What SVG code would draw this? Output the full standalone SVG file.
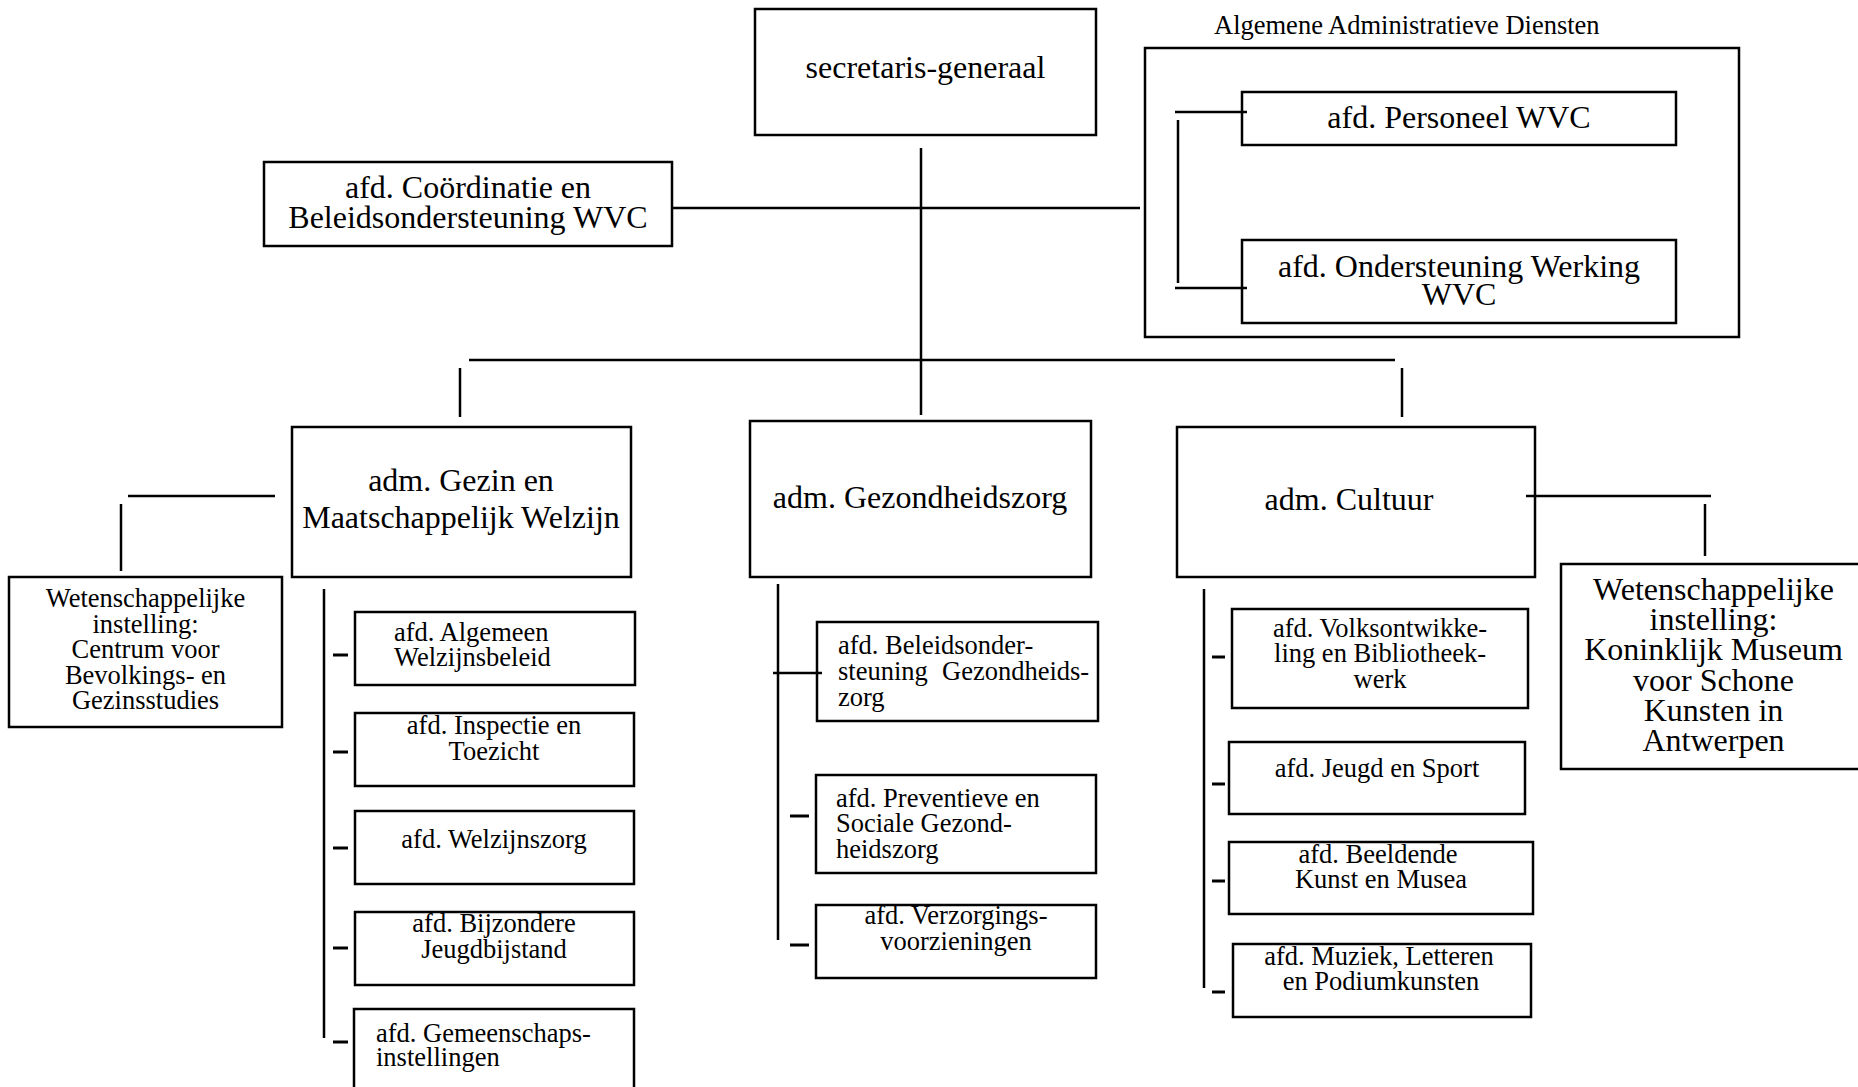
<svg xmlns="http://www.w3.org/2000/svg" width="1858" height="1087" viewBox="0 0 1858 1087">
<style>
.box{fill:#fff;stroke:#000;stroke-width:2.5}
.ln{stroke:#000;stroke-width:2.5;fill:none}
.tk{stroke:#000;stroke-width:3;fill:none}
text{font-family:"Liberation Serif","Times New Roman",serif;fill:#000}
.big{font-size:32px}
.sm{font-size:26.5px}
.m{text-anchor:middle}
</style>
<rect width="1858" height="1087" fill="#fff"/>
<g id="n-sg"><rect class="box" x="755" y="9" width="341" height="126"/><text class="big m" x="925.5" y="78">secretaris-generaal</text></g>
<g id="n-coord"><rect class="box" x="264" y="162" width="408" height="84"/><text class="big m" x="468" y="198">afd. Coördinatie en</text><text class="big m" x="468" y="228">Beleidsondersteuning WVC</text></g>
<g id="n-aad"><rect class="box" x="1145" y="48" width="594" height="289"/><text class="sm" x="1214" y="34">Algemene Administratieve Diensten</text></g>
<g id="n-pers"><rect class="box" x="1242" y="92" width="434" height="53"/><text class="big m" x="1459" y="128">afd. Personeel WVC</text></g>
<g id="n-onder"><rect class="box" x="1242" y="240" width="434" height="83"/><text class="big m" x="1459" y="277">afd. Ondersteuning Werking</text><text class="big m" x="1459" y="305">WVC</text></g>
<g id="n-gezin"><rect class="box" x="292" y="427" width="339" height="150"/><text class="big m" x="461" y="491">adm. Gezin en</text><text class="big m" x="461" y="528">Maatschappelijk Welzijn</text></g>
<g id="n-wet1"><rect class="box" x="9" y="577" width="273" height="150"/>
<text class="sm m" x="145.5" y="607">Wetenschappelijke</text><text class="sm m" x="145.5" y="632.6">instelling:</text><text class="sm m" x="145.5" y="658.2">Centrum voor</text><text class="sm m" x="145.5" y="683.8">Bevolkings- en</text><text class="sm m" x="145.5" y="709.4">Gezinsstudies</text></g>
<g id="n-g1"><rect class="box" x="355" y="612" width="280" height="73"/><text class="sm" x="394" y="641">afd. Algemeen</text><text class="sm" x="394" y="666">Welzijnsbeleid</text></g>
<g id="n-g2"><rect class="box" x="355" y="713" width="279" height="73"/><text class="sm m" x="494" y="734">afd. Inspectie en</text><text class="sm m" x="494" y="759.5">Toezicht</text></g>
<g id="n-g3"><rect class="box" x="355" y="811" width="279" height="73"/><text class="sm m" x="494" y="848">afd. Welzijnszorg</text></g>
<g id="n-g4"><rect class="box" x="355" y="912" width="279" height="73"/><text class="sm m" x="494" y="932">afd. Bijzondere</text><text class="sm m" x="494" y="958">Jeugdbijstand</text></g>
<g id="n-g5"><rect class="box" x="354" y="1009" width="280" height="95"/><text class="sm" x="376" y="1042">afd. Gemeenschaps-</text><text class="sm" x="376" y="1066">instellingen</text></g>
<g id="n-gez"><rect class="box" x="750" y="421" width="341" height="156"/><text class="big m" x="920" y="507.5">adm. Gezondheidszorg</text></g>
<g id="n-z1"><rect class="box" x="817" y="622" width="281" height="99"/><text class="sm" x="838" y="654">afd. Beleidsonder-</text><text class="sm" y="680"><tspan x="838">steuning</tspan><tspan x="942">Gezondheids-</tspan></text><text class="sm" x="838" y="706">zorg</text></g>
<g id="n-z2"><rect class="box" x="816" y="775" width="280" height="98"/><text class="sm" x="836" y="807">afd. Preventieve en</text><text class="sm" x="836" y="832">Sociale Gezond-</text><text class="sm" x="836" y="857.5">heidszorg</text></g>
<g id="n-z3"><rect class="box" x="816" y="905" width="280" height="73"/><text class="sm m" x="956" y="924">afd. Verzorgings-</text><text class="sm m" x="956" y="950">voorzieningen</text></g>
<g id="n-cult"><rect class="box" x="1177" y="427" width="358" height="150"/><text class="big m" x="1349" y="509.5">adm. Cultuur</text></g>
<g id="n-wet2"><rect class="box" x="1561" y="564" width="312" height="205"/>
<text class="big m" x="1713.5" y="599.6">Wetenschappelijke</text><text class="big m" x="1713.5" y="629.9">instelling:</text><text class="big m" x="1713.5" y="660.2">Koninklijk Museum</text><text class="big m" x="1713.5" y="690.5">voor Schone</text><text class="big m" x="1713.5" y="720.8">Kunsten in</text><text class="big m" x="1713.5" y="751.1">Antwerpen</text></g>
<g id="n-c1"><rect class="box" x="1232" y="609" width="296" height="99"/><text class="sm m" x="1380" y="637">afd. Volksontwikke-</text><text class="sm m" x="1380" y="662">ling en Bibliotheek-</text><text class="sm m" x="1380" y="688">werk</text></g>
<g id="n-c2"><rect class="box" x="1229" y="742" width="296" height="72"/><text class="sm m" x="1377" y="777">afd. Jeugd en Sport</text></g>
<g id="n-c3"><rect class="box" x="1229" y="842" width="304" height="72"/><text class="sm m" x="1378" y="863">afd. Beeldende</text><text class="sm m" x="1381" y="888">Kunst en Musea</text></g>
<g id="n-c4"><rect class="box" x="1233" y="944" width="298" height="73"/><text class="sm m" x="1379" y="964.5">afd. Muziek, Letteren</text><text class="sm m" x="1381" y="990">en Podiumkunsten</text></g>
<g id="connectors">
<line class="ln" x1="672" y1="208" x2="1140" y2="208"/>
<line class="ln" x1="921" y1="148" x2="921" y2="415"/>
<line class="ln" x1="469" y1="360" x2="1395" y2="360"/>
<line class="ln" x1="460" y1="368" x2="460" y2="417"/>
<line class="ln" x1="1402" y1="368" x2="1402" y2="417"/>
<line class="ln" x1="1175" y1="112" x2="1247" y2="112"/>
<line class="ln" x1="1178" y1="120" x2="1178" y2="283"/>
<line class="ln" x1="1175" y1="288" x2="1247" y2="288"/>
<line class="ln" x1="128" y1="496" x2="275" y2="496"/>
<line class="ln" x1="121" y1="504" x2="121" y2="571"/>
<line class="ln" x1="324" y1="589" x2="324" y2="1038"/>
<line class="tk" x1="333" y1="655" x2="348" y2="655"/>
<line class="tk" x1="333" y1="752" x2="348" y2="752"/>
<line class="tk" x1="333" y1="848" x2="348" y2="848"/>
<line class="tk" x1="333" y1="948" x2="348" y2="948"/>
<line class="tk" x1="333" y1="1042" x2="348" y2="1042"/>
<line class="ln" x1="778" y1="584" x2="778" y2="940"/>
<line class="ln" x1="773" y1="673" x2="822" y2="673"/>
<line class="tk" x1="790" y1="816" x2="809" y2="816"/>
<line class="tk" x1="790" y1="945" x2="809" y2="945"/>
<line class="ln" x1="1204" y1="589" x2="1204" y2="988"/>
<line class="tk" x1="1212" y1="657" x2="1225" y2="657"/>
<line class="tk" x1="1212" y1="784" x2="1225" y2="784"/>
<line class="tk" x1="1212" y1="881" x2="1225" y2="881"/>
<line class="tk" x1="1212" y1="992" x2="1225" y2="992"/>
<line class="ln" x1="1526" y1="496" x2="1711" y2="496"/>
<line class="ln" x1="1705" y1="504" x2="1705" y2="556"/>
</g>
</svg>
